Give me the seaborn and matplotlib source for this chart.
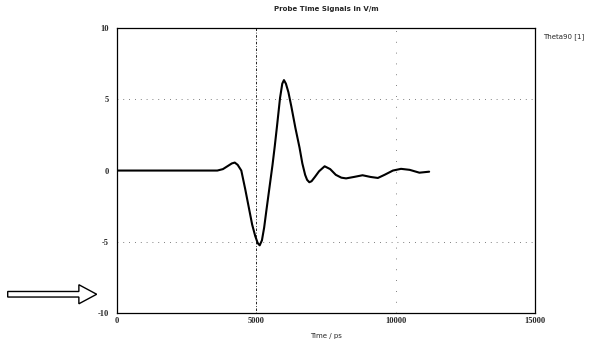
import matplotlib
matplotlib.use("Agg")
import matplotlib.pyplot as plt
import seaborn as sns
import pandas as pd
from matplotlib.patches import FancyArrow

# Probe signal samples: time in ps, field in V/m
time_ps = [0, 1000, 2000, 3000, 3600, 3800, 4000, 4120, 4225, 4330, 4460,
           4600, 4740, 4850, 4960, 5050, 5120, 5200, 5280, 5360, 5470, 5580,
           5660, 5740, 5850, 5930, 5990, 6060, 6150, 6255, 6400, 6550, 6650,
           6750, 6820, 6900, 6980, 7100, 7250, 7450, 7650, 7850, 8050, 8220,
           8500, 8810, 9100, 9360, 9600, 9900, 10190, 10500, 10850, 11200]
field_vm = [0, 0, 0, 0, 0.0, 0.1, 0.35, 0.5, 0.56, 0.4, 0.0,
            -1.3, -2.7, -3.8, -4.6, -5.1, -5.25, -4.9, -4.0, -2.8, -1.2, 0.4,
            1.7, 3.1, 5.1, 6.1, 6.35, 6.1, 5.5, 4.5, 3.0, 1.6, 0.5,
            -0.3, -0.65, -0.82, -0.75, -0.45, -0.05, 0.3, 0.1, -0.3, -0.5, -0.55,
            -0.45, -0.33, -0.45, -0.52, -0.3, 0.0, 0.12, 0.05, -0.15, -0.08]

x_ticks = [0, 5000, 10000, 15000]
y_ticks = [-10, -5, 0, 5, 10]

sns.set_style("white")
plt.rcParams["font.family"] = ["DejaVu Sans"]

fig = plt.figure(figsize=(5.93, 3.47), dpi=100)
ax = fig.add_axes([0.1973, 0.098, 0.705, 0.821])

df = pd.DataFrame({"t": time_ps, "e": field_vm})
sns.lineplot(data=df, x="t", y="e", color="black", linewidth=1.5, ax=ax)

ax.set_xlim(0, 15000)
ax.set_ylim(-10, 10)
ax.set_xticks(x_ticks)
ax.set_yticks(y_ticks)
ax.set_xticklabels([str(v) for v in x_ticks], fontsize=6, family="Liberation Serif",
                   fontweight="bold")
ax.set_yticklabels([str(v) for v in y_ticks], fontsize=6, family="Liberation Serif",
                   fontweight="bold")
ax.tick_params(axis="x", length=0, pad=3)
ax.tick_params(axis="y", length=0, pad=6)

# sparse grid lines
ax.axvline(5000, color="black", lw=0.6, ls=(0, (1, 2, 3, 2)), zorder=0)
ax.axvline(10000, color="#555555", lw=0.6, ls=(0, (1, 12)), zorder=0)
for yv in (5, -5):
    ax.axhline(yv, color="#555555", lw=0.6, ls=(0, (1, 6)), zorder=0)

for s in ax.spines.values():
    s.set_color("black")
    s.set_linewidth(0.9)

ax.set_xlabel("Time / ps", fontsize=5, labelpad=6)
ax.set_ylabel("")
ax.set_title("Probe Time Signals in V/m", fontsize=5, fontweight="bold", pad=12)

fig.text(0.915, 0.895, "Theta90 [1]", fontsize=5, ha="left", va="center")

# hollow arrow pointing at the axes
arrow = FancyArrow(0.013, 0.152, 0.12, 0.0, width=0.016, head_width=0.055,
                   head_length=0.03, transform=fig.transFigure,
                   facecolor="white", edgecolor="black", linewidth=1.0)
fig.patches.append(arrow)

fig.savefig("out.png", dpi=100)
